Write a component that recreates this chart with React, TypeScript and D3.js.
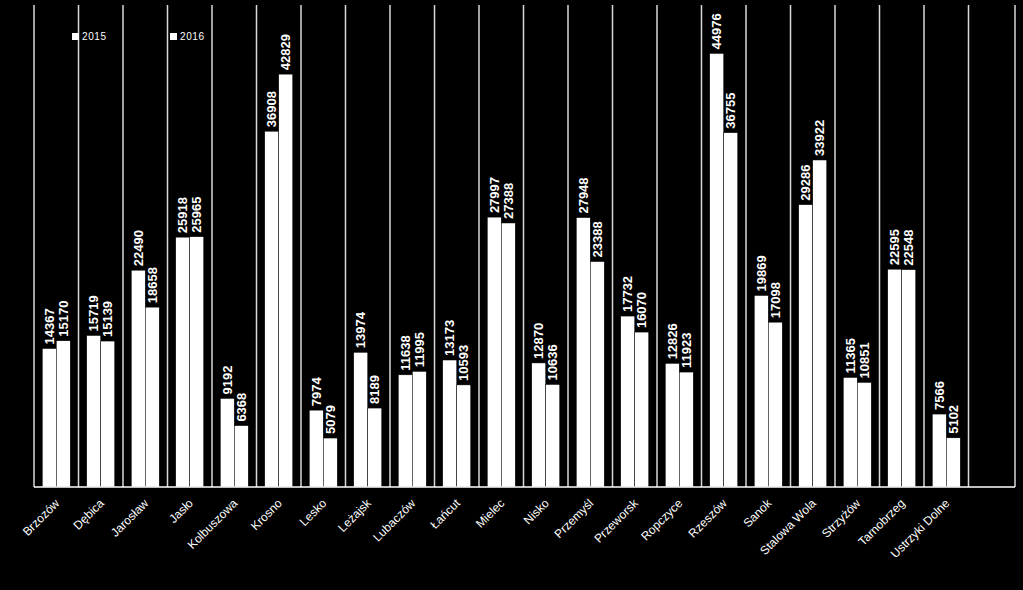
import React from "react";
import * as d3 from "d3";

const categories = ["Brzozów","Dębica","Jarosław","Jasło","Kolbuszowa","Krosno","Lesko","Leżajsk","Lubaczów","Łańcut","Mielec","Nisko","Przemyśl","Przeworsk","Ropczyce","Rzeszów","Sanok","Stalowa Wola","Strzyżów","Tarnobrzeg","Ustrzyki Dolne"];
const values2015 = [14367,15719,22490,25918,9192,36908,7974,13974,11638,13173,27997,12870,27948,17732,12826,44976,19869,29286,11365,22595,7566];
const values2016 = [15170,15139,18658,25965,6368,42829,5079,8189,11995,10593,27388,10636,23388,16070,11923,36755,17098,33922,10851,22548,5102];
const seriesNames = ["2015","2016"];

const W = 1023, H = 590;
const left = 34, right = 1013, top = 5, bottom = 487;

export default function App() {
  const slots = [...categories, ""];
  const x = d3.scaleBand<string>().domain(slots.map((c, i) => String(i))).range([left, right]).padding(0);
  const y = d3.scaleLinear().domain([0, 50000]).range([bottom, top]);
  const barW = 14;
  const series = [values2015, values2016];
  const font = "'Liberation Sans', Arial, sans-serif";
  return (
    <svg width={W} height={H} style={{ position: "absolute", left: 0, top: 0, background: "#000" }}>
      <rect x={0} y={0} width={W} height={H} fill="#000" />
      {slots.map((c, i) => (
        <line key={"g" + i} x1={x(String(i))!} x2={x(String(i))!} y1={top} y2={bottom} stroke="#d9d9d9" strokeWidth={1.5} />
      ))}
      <line x1={right + 2} x2={right + 2} y1={top} y2={bottom} stroke="#d9d9d9" strokeWidth={1.5} />
      {categories.map((c, i) => {
        const cx = x(String(i))! + x.bandwidth() / 2;
        return (
          <g key={c}>
            {series.map((vals, s) => {
              const bx = cx - barW + s * barW;
              const v = vals[i];
              return (
                <g key={s}>
                  <rect x={bx} y={y(v)} width={barW} height={bottom - y(v)} fill="#fff" stroke="#000" strokeWidth={0.5} />
                  <text transform={`translate(${bx + barW / 2 + 4.5},${y(v) - 4}) rotate(-90)`} fill="#fff" fontFamily={font} fontSize={13} fontWeight="bold">{v}</text>
                </g>
              );
            })}
            <text transform={`translate(${cx + 4},${bottom + 17}) rotate(-45)`} textAnchor="end" fill="#fff" fontFamily={font} fontSize={12}>{c}</text>
          </g>
        );
      })}
      <line x1={left} x2={right + 2} y1={bottom} y2={bottom} stroke="#fff" strokeWidth={1.5} />
      {seriesNames.map((n, i) => (
        <g key={n} transform={`translate(${72 + i * 98},33)`}>
          <rect x={0} y={0} width={7} height={7} fill="#fff" />
          <text x={10} y={7} fill="#fff" fontFamily={font} fontSize={10} letterSpacing={0.6}>{n}</text>
        </g>
      ))}
    </svg>
  );
}
